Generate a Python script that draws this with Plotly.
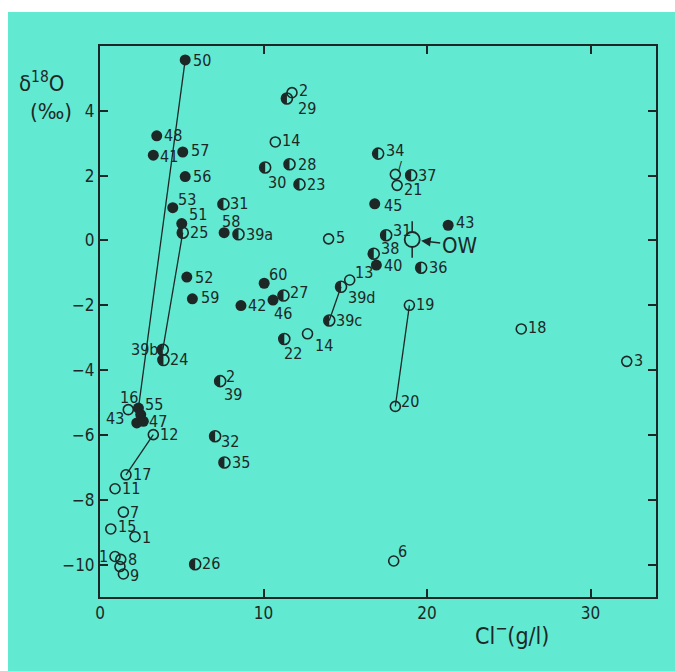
import math
import plotly.graph_objects as go

# ---------------- data (Cl- g/l, delta18O permil) ----------------
filled_id = ["50", "48", "41", "57", "56", "53", "51", "58", "52", "59", "60", "46", "42",
             "55", "55b", "43", "47", "45", "43b", "40"]
filled_x = [5.21, 3.47, 3.26, 5.06, 5.21, 4.45, 5.00, 7.59, 5.31, 5.65, 10.04, 10.58, 8.62,
            2.35, 2.49, 2.25, 2.65, 16.80, 21.29, 16.90]
filled_y = [5.57, 3.23, 2.63, 2.73, 1.97, 1.01, 0.52, 0.24, -1.13, -1.80, -1.32, -1.84, -2.01,
            -5.17, -5.37, -5.63, -5.58, 1.13, 0.47, -0.76]

half_id = ["29", "30", "28", "23", "31", "25", "39a", "27", "22", "39b", "24", "2/39", "32",
           "35", "26", "34", "37", "31b", "38", "36", "39d", "39c"]
half_x = [11.43, 10.10, 11.59, 12.20, 7.55, 5.06, 8.47, 11.22, 11.27, 3.84, 3.88, 7.35, 7.04,
          7.61, 5.82, 17.01, 19.03, 17.50, 16.74, 19.64, 14.74, 14.02]
half_y = [4.38, 2.25, 2.35, 1.73, 1.12, 0.24, 0.19, -1.70, -3.04, -3.37, -3.69, -4.34, -6.04,
          -6.85, -9.99, 2.68, 2.01, 0.16, -0.41, -0.84, -1.43, -2.47]

open_id = ["2", "14", "14b", "16", "12", "17", "11", "7", "15", "1", "10", "8", "8b", "9",
           "4", "21", "5", "13", "19", "20", "18", "3", "6"]
open_x = [11.74, 10.72, 12.69, 1.73, 3.26, 1.59, 0.92, 1.43, 0.66, 2.14, 0.92, 1.27, 1.22, 1.43,
          18.06, 18.17, 13.98, 15.27, 18.92, 18.06, 25.76, 32.21, 17.96]
open_y = [4.56, 3.04, -2.88, -5.22, -5.99, -7.23, -7.66, -8.38, -8.90, -9.14, -9.75, -9.84, -10.06,
          -10.29, 2.04, 1.70, 0.05, -1.22, -2.00, -5.12, -2.73, -3.73, -9.89]

ow_x = [19.09]
ow_y = [0.03]

# connecting lines (pairs of sample ids)
links = [("50", "55"), ("25", "39b"), ("12", "17"), ("39d", "39c"), ("19", "20")]

x_ticks = [0, 10, 20, 30]
y_ticks = [4, 2, 0, -2, -4, -6, -8, -10]

# ---------------- style ----------------
INK = "#1d2826"
CYAN = "#62E9D2"
FONT = "DejaVu Sans Condensed, Roboto, sans-serif"
W, H = 675, 671
ML, MR, MT, MB = 100, 19, 46, 74

# label text, x shift, y shift (px, up positive), anchor
LABELS = {
    "50": [("50", 6, -1)], "48": [("48", 5, 0)], "41": [("41", 5, -1)], "57": [("57", 6, 1)],
    "56": [("56", 6, 0)], "53": [("53", 3, 8)], "51": [("51", 5, 9)], "58": [("58", -4, 11)],
    "52": [("52", 6, 0)], "59": [("59", 7, 1)], "60": [("60", 3, 9)], "46": [("46", -1, -13)],
    "42": [("42", 5, 0)], "55": [("55", 5, 4)], "43": [("43", -11, 4, "right")],
    "47": [("47", 4, 0)], "45": [("45", 7, -2)], "43b": [("43", 6, 3)], "40": [("40", 6, 0)],
    "29": [("29", 9, -10)], "30": [("30", 1, -15)], "28": [("28", 6, 0)], "23": [("23", 5, 0)],
    "31": [("31", 5, 1)], "25": [("25", 5, 0)], "39a": [("39a", 5, 0)], "27": [("27", 5, 3)],
    "22": [("22", -2, -14)], "39b": [("39b", -3, 0, "right")], "24": [("24", 5, 1)],
    "2/39": [("2", 4, 5), ("39", 2, -13)], "32": [("32", 4, -5)], "35": [("35", 6, 0)],
    "26": [("26", 5, 1)], "34": [("34", 6, 3)], "37": [("37", 5, 0)], "31b": [("31", 5, 5)],
    "38": [("38", 5, 5)], "36": [("36", 6, 0)], "39d": [("39d", 5, -11)], "39c": [("39c", 5, 0)],
    "2": [("2", 5, 2)], "14": [("14", 5, 1)], "14b": [("14", 5, -12)], "16": [("16", -10, 12)],
    "12": [("12", 5, 0)], "17": [("17", 5, 0)], "11": [("11", 5, 0)], "7": [("7", 5, 0)],
    "15": [("15", 5, 2)], "1": [("1", 5, -1)], "10": [("1", -5, 0, "right")], "8": [("8", 5, 0)],
    "9": [("9", 5, -2)], "4": [("/", 1, 9)], "21": [("21", 5, -4)], "5": [("5", 5, 1)],
    "13": [("13", 3, 8)], "19": [("19", 5, 1)], "20": [("20", 4, 5)], "18": [("18", 5, 1)],
    "3": [("3", 5, 1)], "6": [("6", 2, 10)],
}

pos = {}
for ids, xs, ys in [(filled_id, filled_x, filled_y), (half_id, half_x, half_y), (open_id, open_x, open_y)]:
    for i, xv, yv in zip(ids, xs, ys):
        pos[i] = (xv, yv)

fig = go.Figure()

# connecting lines
for a, b in links:
    fig.add_trace(go.Scatter(x=[pos[a][0], pos[b][0]], y=[pos[a][1], pos[b][1]], mode="lines",
                             line=dict(color=INK, width=1.3), hoverinfo="skip", showlegend=False))

# OW reference water: vertical stroke + ring
fig.add_trace(go.Scatter(x=ow_x, y=ow_y, mode="markers",
                         marker=dict(symbol="line-ns", size=26, line=dict(color=INK, width=1.5)),
                         showlegend=False))
fig.add_trace(go.Scatter(x=ow_x, y=ow_y, mode="markers",
                         marker=dict(symbol="circle", size=15, color=CYAN, line=dict(color=INK, width=1.8)),
                         showlegend=False))

# open circles
fig.add_trace(go.Scatter(x=open_x, y=open_y, mode="markers",
                         marker=dict(symbol="circle-open", size=10, color=INK, line=dict(width=1.6)),
                         showlegend=False))
# half-filled circles: ring + left half disc
fig.add_trace(go.Scatter(x=half_x, y=half_y, mode="markers",
                         marker=dict(symbol="circle-open", size=11, color=INK, line=dict(width=1.6)),
                         showlegend=False))
r = 5.2
pts = [(r * math.cos(math.radians(a)), r * math.sin(math.radians(a))) for a in range(90, 271, 15)]
half_path = "M " + " L ".join(f"{px:.2f},{py:.2f}" for px, py in pts) + " Z"
for xv, yv in zip(half_x, half_y):
    fig.add_shape(type="path", xref="x", yref="y", xsizemode="pixel", ysizemode="pixel",
                  xanchor=xv, yanchor=yv, path=half_path, fillcolor=INK, line=dict(width=0),
                  layer="above")
# filled circles
fig.add_trace(go.Scatter(x=filled_x, y=filled_y, mode="markers",
                         marker=dict(symbol="circle", size=11, color=INK), showlegend=False))

# point labels
for key, specs in LABELS.items():
    xv, yv = pos[key]
    for spec in specs:
        text, dx, dy = spec[0], spec[1], spec[2]
        anchor = spec[3] if len(spec) > 3 else "left"
        fig.add_annotation(x=xv, y=yv, text=text, showarrow=False, xanchor=anchor, yanchor="middle",
                           xshift=dx, yshift=dy,
                           font=dict(size=13 if text == "/" else 16, color=INK, family=FONT))

# OW label with arrow
fig.add_annotation(x=ow_x[0], y=ow_y[0], text="OW", showarrow=True, ax=47, ay=6,
                   arrowhead=2, arrowsize=1.2, arrowwidth=1.6, arrowcolor=INK, standoff=9,
                   font=dict(size=22, color=INK, family=FONT))

# axis titles (placed by page pixel position)
pw, ph = W - ML - MR, H - MT - MB


def paper_xy(px, py):
    return (px - ML) / pw, (H - MB - py) / ph


for txt, (px, py), size in [("δ<sup>18</sup>O", (41, 82), 22), ("(‰)", (51, 112), 22),
                            ("Cl<sup>−</sup>(g/l)", (512, 634), 23)]:
    xp, yp = paper_xy(px, py)
    fig.add_annotation(xref="paper", yref="paper", x=xp, y=yp, xanchor="center", yanchor="middle",
                       text=txt, showarrow=False, font=dict(size=size, color=INK, family=FONT))

# cyan sheet behind everything
x0p, y1p = paper_xy(8, 12)
x1p, y0p = paper_xy(W, H)
fig.add_shape(type="rect", xref="paper", yref="paper", layer="below",
              x0=x0p, x1=x1p, y0=y0p, y1=y1p, fillcolor=CYAN, line=dict(width=0))

axis_common = dict(showline=True, linecolor=INK, linewidth=2, mirror="ticks", ticks="inside",
                   ticklen=8, tickwidth=2, tickcolor=INK, showgrid=False, zeroline=False,
                   tickfont=dict(size=17, color=INK, family=FONT))
fig.update_xaxes(range=[0, 34], tickvals=x_ticks, **axis_common)
fig.update_yaxes(range=[-11, 6], tickvals=y_ticks, **axis_common)

fig.update_layout(width=W, height=H, margin=dict(l=ML, r=MR, t=MT, b=MB),
                  paper_bgcolor="white", plot_bgcolor="rgba(0,0,0,0)", showlegend=False)

fig.write_html("out.html")
